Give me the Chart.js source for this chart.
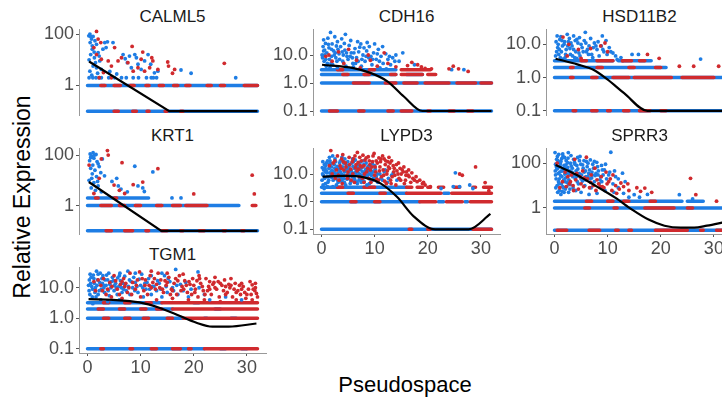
<!DOCTYPE html>
<html>
<head>
<meta charset="utf-8">
<script src="https://cdn.jsdelivr.net/npm/chart.js@4.4.1/dist/chart.umd.min.js"></script>
<style>
  body { margin: 0; background: #fff; width: 722px; height: 404px; overflow: hidden; position: relative; font-family: "Liberation Sans", Arial, sans-serif; }
  canvas { position: absolute; }
  .title { position: absolute; width: 187px; text-align: center; font-size: 17px; line-height: 20px; color: #1a1a1a; }
  .axtitle { position: absolute; font-size: 22px; color: #000; white-space: nowrap; transform: translate(-50%, -50%); }
</style>
</head>
<body>
<div class="axtitle" style="left:22px; top:197px; font-size:23px; transform: translate(-50%, -50%) rotate(-90deg);">Relative Expression</div>
<div class="axtitle" style="left:405px; top:385px;">Pseudospace</div>
<script>
// x axis, shared by all panels
const xTicks = [0, 10, 20, 30];
const xTickLabels = ['0', '10', '20', '30'];

// rows are [y, xStart, xEnd]: dense lines of overlapping cells
// CALML5
const calml5Ticks = [1, 100];
const calml5TickLabels = ['1', '100'];
const calml5Blue = [[0.25,86],[0.45,100],[0.6,81],[0.75,64],[1.05,81],[0.5,47],[0.9,35],[1.7,40],[1.25,20],[0.6,16],[2,19],[1.5,7.7],[2.3,9],[1.05,5.7],[2.6,4.2],[0.45,3.6],[1.9,3],[3.25,47],[3.75,50],[4.8,47],[2.9,26],[1.4,55],[0.9,26],[1.3,12],[0.3,10],[2.2,14],[1.7,4.9],[0.8,2.5],[2.6,2.0],[6.7,16],[7.1,11],[7.9,14],[7.5,7.7],[8.9,16],[9.2,12],[9.5,6.7],[8.25,4.9],[10.1,4.2],[10.75,9],[11.4,16],[11.9,6.7],[12.6,3.1],[13.25,3.6],[12,2],[17.6,4],[19.5,3],[27.9,2],[3.5,30],[4.2,3.5],[5.5,2.8],[0.3,2],[1,2],[1.6,2],[2.2,2],[4,2],[5.1,2],[6.4,2],[7.3,2],[8.6,2],[9.6,2],[11.1,2],[12.4,2],[13,2]];
const calml5Red = [[1.7,127],[2,64],[2.5,47],[1.7,16],[2.6,10.5],[3.9,9],[4.5,5.7],[5.1,30],[5.75,9],[6.4,12],[7.6,7.7],[8.4,33],[8.6,3.6],[9.5,4.9],[10.1,10.5],[10.4,20],[10.75,3.6],[11.7,4.9],[12.1,12],[12.3,9],[13.25,4.2],[15.1,8.2],[15.25,5.7],[16,3],[16.4,4.2],[25.75,7.3],[2.2,2],[4.5,2],[3,3.2],[1.2,30]];
const calml5BlueRows = [[1,0,32],[0.1,0,32]];
const calml5RedRows = [[1,2.5,3.3],[1,5,6.2],[1,8,8.8],[1,11,11.6],[1,13.5,14.3],[1,16.2,17],[1,18.5,19.3],[1,22.5,23.3],[1,25,25.8],[1,29.5,32],[0.1,5,5.8],[0.1,8.5,9.2],[0.1,11.2,11.6],[0.1,14.6,15],[0.1,17.5,18]];
const calml5Curve = [[0.3,8.6],[15.4,0.1],[32,0.1]];

// CDH16
const cdh16Ticks = [0.1, 1, 10];
const cdh16TickLabels = ['0.1', '1.0', '10.0'];
const cdh16Blue = [[1.7,64],[4.5,55],[3,30],[0.75,26],[0.3,20],[0.6,15],[1,12],[1.4,18],[1.9,9],[0.2,8],[0.5,6],[1.1,5],[0.9,4],[1.6,3.6],[2.3,14],[2.7,8],[3.3,11],[3.6,20],[4,6],[4.4,15],[4.8,9],[5.2,22],[5.6,12],[5.9,5],[6.3,17],[6.6,8],[7,13],[7.4,25],[7.8,10],[8.2,6],[8.5,14],[9,20],[9.3,9],[9.8,12],[10.3,7],[10.7,16],[11.2,9],[11.6,5],[12.1,11],[12.5,7],[13,4.5],[13.4,8],[14,10],[14.6,6],[15.3,12],[0.4,35],[1.2,40],[2,25],[2.5,45],[3.8,38],[5.5,33],[6.8,30],[8.6,28],[2.1,4.5],[3,3.5],[4.6,4],[6,3.8],[7.5,4],[9.5,4.5],[11,3.5],[12.2,3.2],[24.5,3],[26.8,3],[17.5,4.5],[1.5,7],[0.1,10],[2.9,6],[4.1,10],[5,7],[6.9,6],[8,18],[10,25],[11.5,20],[0.4,14],[0.8,7],[1.3,24],[2.4,10],[3.1,16],[3.9,13],[4.3,26],[5.4,9],[6.1,12],[7.2,19],[8.9,8],[10.5,11],[1.9,16],[2.8,21],
  [0.6,10],[1.8,5],[2.6,12],[3.4,7],[4.7,12],[5.8,8],[6.4,5],[7.6,7],[8.4,9],[9.6,7],[10.9,6],[12.8,9],[13.8,6]];
const cdh16Red = [[1.4,10],[2,6],[4.2,5],[6.6,6.5],[7.3,3.5],[9.2,6.5],[10.5,4],[12.5,5],[14,3.8],[16.2,4.2],[17,5.5],[18.1,4.5],[18.8,3.8],[20.7,3.2],[24,3.2],[24.8,4],[25.8,3.2],[27.6,2.6],[3.2,13],[5.1,16],[8.8,10],[11.8,12],[0.8,9],[19.5,3.3]];
const cdh16BlueRows = [[3,0,14],[2,0,14],[2,16,19],[1,0,32],[0.1,0,32]];
const cdh16RedRows = [[3,3,4],[3,9,10],[3,15,20.5],[2,4,5],[2,8,9],[2,13,14],[2,15,19],[2,20,21.5],[1,6,9],[1,12,14],[1,15.5,18],[1,19.5,24],[1,25.5,29],[1,30,32],[0.1,1.5,3],[0.1,7,8],[0.1,12.5,13.5],[0.1,15,17],[0.1,20,20.5],[0.1,24,25],[0.1,27.5,28.5]];
const cdh16Curve = [[0.1,4.5],[6,3.4],[9.2,2.3],[12.4,1.15],[15.5,0.33],[19,0.1],[32,0.1]];

// HSD11B2
const hsd11b2Ticks = [0.1, 1, 10];
const hsd11b2TickLabels = ['0.1', '1.0', '10.0'];
const hsd11b2Blue = [[5.8,23],[3.6,18],[0.3,12],[0.6,8],[1,14],[1.3,6],[0.8,5],[1.8,10],[2.2,7],[2.6,12],[3,5],[3.3,9],[4,6],[4.4,11],[4.8,4.5],[5.2,8],[5.6,13],[6,6],[6.5,9],[7,5],[7.5,11],[8,7],[8.4,4.5],[8.8,9],[9.3,6],[9.7,13],[10.3,8],[11,5.5],[11.5,4.5],[2,4],[1.6,3.6],[0.2,4.5],[4.2,3.8],[7.2,4],[14.6,5],[15.8,5],[11.8,3.5],[27.5,3.6],[1.2,17],[2.8,15],[4.7,16],[6.8,15],[9,18],[3.8,4],[12.5,4],[0.5,18],[2.4,20],[0.4,6],[1.5,9],[2.9,7.5],[3.9,13],[5,10],[6.2,7],[7.8,9],[9.9,5],[1.1,4],
  [0.7,10],[1.4,13],[2.1,5],[2.5,9],[3.1,11],[3.6,7],[4.2,14],[4.6,5.5],[5.4,6],[5.9,11],[6.4,5],[7.3,8],[8.2,12],[9.1,7],[10.6,6],[0.9,7],[1.9,12],[3.4,4.5]];
const hsd11b2Red = [[1.6,16.6],[2.7,10],[6.8,7.5],[8.7,9],[10,6],[2.4,4.5],[5,3.8],[17.5,5],[19.7,3.8],[23.5,2.2],[26.2,2.2],[30.9,2.2],[9.5,11],[4.5,7],[12.8,3.2]];
const hsd11b2BlueRows = [[3.2,0,11],[3.2,12,18.2],[2,0,21],[1,0,32],[0.1,0,32]];
const hsd11b2RedRows = [[3.2,5,6],[3.2,8,11],[3.2,13,14.5],[3.2,16,17],[2,3,3.5],[2,8,9],[2,14,15],[2,19,20],[1,3,3.5],[1,7,8],[1,11,14],[1,15,22],[1,24,30],[0.1,3.5,4],[0.1,7,8],[0.1,10,10.5],[0.1,13,14],[0.1,16,18],[0.1,20,21]];
const hsd11b2Curve = [[0.2,3.7],[4.3,2.5],[7.4,1.7],[9.9,0.9],[13.1,0.34],[17.5,0.1],[32,0.1]];

// KRT1
const krt1Ticks = [1, 100];
const krt1TickLabels = ['1', '100'];
const krt1Blue = [[1.05,124],[0.5,110],[1.6,105],[0.8,90],[1.2,75],[0.4,60],[1.8,55],[1,40],[0.6,30],[1.4,25],[2.2,35],[0.9,18],[1.7,14],[0.3,10],[2.5,20],[1.2,8],[2,6],[0.7,5],[1.5,4],[2.6,3.5],[8.9,36],[12.3,21.5],[5.5,12],[4.6,9],[5.8,6],[6.3,4.5],[7.5,3.5],[9.5,6],[10.4,5],[10.7,3.6],[15.9,2],[17.6,2],[3.2,15],[2.8,70],[0.6,80],[1.3,100],[2,45],[0.8,12],[1.9,9]];
const krt1Red = [[3.75,150],[3.9,100],[2.6,70],[6.5,50],[13.25,29],[8.6,6.7],[10.4,8.5],[5,6.5],[6,4],[7,3],[20,2.9],[31,16],[31.4,2.9],[0.3,40],[2.2,12],[1.2,3]];
const krt1BlueRows = [[2,0,11.5],[1,0,28.5],[0.1,0,32]];
const krt1RedRows = [[2,1.5,2],[2,5,5.5],[1,2.5,4.5],[1,6,7],[1,9,10],[1,13,14],[1,16,17.5],[1,18.5,22.5],[1,31,31.7],[0.1,3.5,4.5],[0.1,7,8.5],[0.1,11,11.5],[0.1,14,15],[0.1,17.5,18],[0.1,21,22],[0.1,25.5,26],[0.1,29,29.5]];
const krt1Curve = [[0.25,8.6],[13.9,0.1],[32,0.1]];

// LYPD3
const lypd3Ticks = [0.1, 1, 10];
const lypd3TickLabels = ['0.1', '1.0', '10.0'];
const lypd3Blue = [[0.2,10],[0.4,14],[0.6,7],[0.8,20],[1,11],[1.2,5],[1.4,16],[1.6,30],[1.8,9],[2,13],[2.2,6],[2.4,22],[2.6,10],[2.8,4],[3,15],[3.2,8],[3.4,25],[3.6,12],[3.8,5.5],[4,18],[4.2,9],[4.4,35],[4.6,14],[4.8,6.5],[5,11],[5.2,20],[5.4,4.5],[5.6,13],[5.8,8],[6,28],[6.2,16],[6.4,10],[6.6,5],[6.8,12],[7,22],[7.2,7],[7.4,14],[7.6,9],[7.8,18],[8,5.5],[8.2,11],[8.4,25],[8.6,7.5],[8.8,13],[9,4.5],[9.2,16],[9.4,9],[9.6,6],[9.8,12],[10,20],[10.3,8],[10.6,5],[11,10],[11.5,6],[12,14],[12.6,7],[13.2,9],[0.3,4],[0.5,3],[1.1,3.5],[0.9,25],[1.5,40],[2.1,45],[0.1,6],[0.7,12],[1.3,8],[1.9,18],[2.5,16],[3.1,11],[3.7,7],[4.3,5],[5.1,7],[5.7,25],[6.3,6],[6.9,9],[7.5,5],[25.2,11],[27.9,4],[24.8,3.5],[26,3.5],[22.5,3],[28.5,3],
  [0.15,17],[0.35,9],[0.55,22],[0.75,4.5],[0.95,13],[1.15,30],[1.35,6],[1.55,11],[1.75,24],[1.95,7.5],[2.15,3.5],[2.35,12],[2.55,35],[2.75,8],[2.95,19],[3.15,5],[3.35,14],[3.55,30],[3.75,10],[3.95,6.5],[4.15,25],[4.35,12],[4.55,4],[4.75,17],[4.95,28],[5.15,9],[5.35,15],[5.55,5.5],[5.75,11],[5.95,19],[6.15,7],[6.35,32],[6.55,13],[6.75,4.5],[6.95,16],[7.15,10],[7.35,27],[7.55,6],[7.75,12],[7.95,22],[8.15,8],[8.35,15],[8.55,4],[8.75,19],[8.95,10],[9.15,6.5],[9.35,13],[9.55,24],[9.75,7],[10.1,15],[10.5,10],[11.2,7],[11.8,12],[12.4,5],[13.5,11],[14.2,6],
  [0.25,28],[0.65,16],[1.05,8],[1.45,23],[1.85,13],[2.25,9],[2.65,28],[3.05,6],[3.45,18],[3.85,40],[4.25,7],[4.65,22],[5.05,16],[5.45,9],[5.85,35],[6.25,11],[6.65,20],[7.05,6],[7.45,17],[7.85,30],[8.25,13],[8.65,9],[9.05,20],[9.45,11]];
const lypd3Red = [[1.75,70],[6.75,60],[9.9,55],[3,45],[4,50],[5.2,40],[7.8,48],[8.8,42],[10.8,38],[11.8,35],[12.5,28],[2.5,30],[3.5,20],[4.5,25],[5.5,15],[6,35],[6.5,22],[7,15],[7.5,30],[8,20],[8.5,12],[9,30],[9.5,18],[10.2,12],[10.5,25],[11,18],[11.3,8],[11.6,14],[12,22],[12.3,10],[12.8,16],[13,6],[13.5,20],[13.8,9],[14.2,13],[14.6,7],[15,10],[15.5,18],[15.8,6],[16.3,9],[16.8,5],[17.2,7],[18,5.3],[19,4.5],[19.5,4],[20.5,3.5],[2,10],[3.3,6],[4.8,9],[6.2,5],[7.7,7],[9.3,5],[10.7,6],[14,4],[12.2,4.5],[26,10],[26.5,9],[29,18],[30.8,4.9],[31.5,2.5],[1.5,20],[2.8,14],[5,12],
  [2.2,25],[3.8,35],[4.2,14],[5.8,28],[6.4,17],[7.2,40],[8.2,32],[9.7,45],[10.3,30],[11.5,45],[12.7,40],[13.2,30],[13.6,12],[14.5,25],[15.2,14],[16,12],[16.5,8],[17,11],[17.5,6],[4.6,18],[6.9,26],[9.1,22],[11.1,28],[12.6,18],[14.8,16],[15.6,4.5],[10,9],[8.7,16],[7.3,20],
  [3.2,9],[3.7,16],[4.1,28],[4.9,7],[5.3,22],[5.9,10],[6.3,45],[6.7,13],[7.1,8],[7.6,18],[8.1,10],[8.4,38],[8.9,7],[9.2,14],[9.6,28],[10.1,18],[10.4,6.5],[10.9,13],[11.2,35],[11.7,9],[12.1,30],[12.4,13],[12.9,25],[13.3,8],[13.7,16],[14.1,22],[14.4,10],[14.9,6],[15.4,12],[15.9,9],[16.4,14],[17.8,8],[18.5,6],[19.2,5],[2.6,7],[3.9,4.5],[5.6,6],[8,5],[11.9,5.5],[13.1,4.5]];
const lypd3BlueRows = [[3.3,0,16],[2,0,16],[2,23,24],[1,0,18.5],[1,22,23],[1,27,27.5],[0.1,0,32]];
const lypd3RedRows = [[3.3,3,4],[3.3,8,10],[3.3,16,17],[3.3,18,19],[3.3,20,20.5],[3.3,22,23],[3.3,25,26],[3.3,28.5,29],[3.3,30.5,32],[2,5,6],[2,11,12],[2,16,22.5],[2,24.5,32],[1,5.5,6.5],[1,10,11],[1,18.5,21.5],[1,23.5,26.5],[1,28,32],[0.1,16.5,17],[0.1,20,20.5],[0.1,28.5,32]];
const lypd3Curve = [[0.2,8],[4.2,8.5],[8,7.6],[11.1,4.6],[14.2,1.5],[17.4,0.29],[21.4,0.1],[27.7,0.1],[31.8,0.36]];

// SPRR3
const sprr3Ticks = [1, 100];
const sprr3TickLabels = ['1', '100'];
const sprr3Blue = [[0.2,90],[0.4,150],[0.6,60],[0.8,250],[1,40],[1.2,120],[1.4,25],[1.6,200],[1.8,80],[2,15],[2.2,130],[2.4,50],[2.6,300],[2.8,30],[3,100],[0.3,20],[0.5,10],[0.7,35],[0.9,6],[1.1,70],[1.3,12],[1.5,45],[1.7,8],[1.9,180],[2.1,22],[2.3,9],[2.5,65],[2.7,18],[2.9,7],[0.1,300],[0.6,5],[1.2,4],[1.8,5],[3.3,40],[3.6,150],[3.9,20],[4.2,80],[4.5,12],[4.8,200],[5.1,30],[5.4,60],[5.7,10],[6,120],[6.3,25],[6.6,50],[6.9,8],[7.2,90],[7.5,15],[7.8,35],[8.1,70],[8.4,12],[8.7,25],[9,50],[9.4,50],[9.8,20],[10.2,30],[10.6,310],[11,12],[11.5,25],[12,8],[12.8,36],[13.3,15],[4,6],[5,5],[6.5,4],[8,4.5],[9.5,6],[11.2,5],[13,4.5],[15,3.9],[17.5,4],[23.5,3.9],[26,2.5],[14,3],[16,3],[3.5,8],[4.3,15],[5.8,18],[7,22],
  [0.15,45],[0.35,70],[0.55,200],[0.75,15],[0.95,110],[1.15,28],[1.35,160],[1.55,9],[1.75,55],[1.95,33],[2.15,85],[2.35,14],[2.55,170],[2.75,40],[2.95,11],[3.15,75],[3.45,25],[3.75,110],[4.05,45],[4.35,180],[4.65,35],[4.95,90],[5.25,16],[5.55,130],[5.85,45],[6.15,70],[6.45,35],[6.75,140],[7.05,40],[7.35,60],[7.65,28],[7.95,110],[8.25,45],[8.55,18],[8.85,80],[9.15,30],[0.25,8],[0.85,12],[1.45,5.5],[2.05,7],[2.65,5],
  [0.2,30],[0.45,55],[0.65,130],[0.9,20],[1.1,95],[1.3,45],[1.55,260],[1.75,18],[2,60],[2.2,35],[2.45,105],[2.65,12],[2.9,45],[3.1,220],[3.35,60],[3.55,30],[3.85,90],[4.1,25],[4.4,55],[4.7,130],[5,20],[5.3,85],[5.6,40],[5.9,25],[6.3,100],[6.7,20],[7.1,30],[7.5,120],[8.2,30],[8.9,15],[9.6,90],[10.4,40],[11.3,45],[12,20]];
const sprr3Red = [[6,185],[0.5,100],[2.5,25],[3,15],[3.5,10],[4,18],[4.5,7],[5,12],[5.5,9],[6.2,20],[6.8,14],[7.3,10],[7.8,6],[8.3,12],[8.8,25],[9.3,8],[9.7,40],[10.2,15],[10.8,6],[11.5,10],[12.2,7],[13,9],[14,6],[15.5,8],[17,7.7],[18.3,5],[25.6,21],[26.6,3.9],[30.5,2],[2,40],[1,8],[3.8,150],[7.6,60],[11.7,4.5],[1.5,15],[2.2,9],[3.2,30],[4.8,25],[5.3,45],[6.6,8],[8,18],[9,9],[10.5,20],[12.5,13],[13.8,12],[16.2,5.5],
  [4.2,35],[5.6,22],[6.9,30],[8.6,9],[9.9,12],[11,30],[2.8,12],[3.6,6]];
const sprr3BlueRows = [[2,0,24],[2,25,28],[1,0,32],[0.1,0,32]];
const sprr3RedRows = [[2,6,7],[2,10,11],[2,13,14],[2,18,19],[1,5.7,6.6],[1,11.2,11.8],[1,17,22.5],[1,25,26],[0.1,0.5,2.3],[0.1,6.5,8.5],[0.1,11.5,12],[0.1,14,14.5],[0.1,19,25],[0.1,27.5,28],[0.1,30.5,31.5]];
const sprr3Curve = [[0.2,84],[4.2,30],[7.9,9.2],[11.5,2.8],[14.6,0.84],[17.7,0.3],[20.7,0.16],[23.8,0.13],[26.3,0.13],[28.7,0.16],[32,0.23]];

// TGM1
const tgm1Ticks = [0.1, 1, 10];
const tgm1TickLabels = ['0.1', '1.0', '10.0'];
const tgm1Blue = [[0.3,8],[0.6,14],[0.9,5],[1.2,20],[1.5,10],[1.7,35],[2,6],[2.3,15],[2.6,9],[2.9,25],[3.2,7],[3.5,12],[3.8,18],[4.1,5.5],[4.4,10],[4.7,22],[5,8],[5.3,14],[5.6,6],[5.9,11],[6.2,17],[6.5,7],[6.8,9],[7.1,13],[7.6,35],[8,6],[8.5,10],[9,15],[9.5,7],[10,12],[10.5,5],[11,9],[11.5,20],[12,6],[12.5,11],[13,8],[13.5,14],[14,5],[14.5,25],[15,7],[16,10],[16.6,40],[17,6],[18,8],[19,5],[20.8,33],[22,6],[23,4],[1,3],[2.5,4],[3.8,3.5],[6,4],[0.5,28],[2,28],[3,12],[4,30],[6,25],[9,30],[12,25],[14,30],[26,5],[29,4],
  [0.2,12],[0.45,6],[0.7,22],[0.95,9],[1.3,14],[1.6,5],[1.9,18],[2.2,8],[2.7,20],[3.1,10],[3.6,26],[4.2,13],[4.9,17],[5.4,10],[6.1,30],[6.7,14],[7.3,8],[7.9,18],[8.7,22],[9.3,11],[10.2,28],[10.8,14],[11.7,9],[13.2,17],[14.8,11],[15.5,16],[16.2,8],[17.5,13],[19.5,9],
  [0.35,18],[0.8,11],[1.1,26],[1.4,7],[1.8,12],[2.4,30],[2.8,14],[3.3,18],[3.9,8],[4.5,16],[5.1,12],[5.7,21],[6.4,10],[7,24],[7.7,11],[8.2,16],[8.9,8],[9.7,19],[10.4,10],[11.2,15],[12.2,11],[13.8,9],[15.2,20],[16.8,12],[18.5,15],[21,10]];
const tgm1Red = [[1.5,8],[2.5,12],[3.5,6],[4.2,15],[5,25],[5.6,9],[6.2,13],[6.8,20],[7.5,7],[8,30],[8.5,15],[9,9],[9.8,33],[10.3,20],[10.8,12],[11.3,6],[11.8,25],[12.3,15],[12.8,9],[13.3,30],[13.8,18],[14.3,7],[14.8,12],[15.3,22],[15.8,9],[16.3,14],[16.8,6],[17.3,25],[17.8,11],[18.3,17],[18.8,7],[19.3,13],[19.8,20],[20.3,9],[20.8,5],[21.3,14],[21.8,8],[22.3,20],[22.8,11],[23.3,6],[23.8,15],[24.3,9],[24.8,5],[25.3,12],[25.8,18],[26.3,7],[26.8,10],[27.3,5],[27.8,14],[28.3,8],[28.8,6],[29.3,11],[29.8,4.5],[30.3,9],[30.8,6],[31,12.5],[31.5,8],[32,5],[3,20],[7,11],[10,5],[13,4],[16,4.5],[19,4],[22,4],[25,3.5],[28,4],[31,4],[18,28],[21,25],[24,22],[27,20],[12,35],[15,30],[4.5,5],[6.5,4.5],
  [2,18],[3.8,9],[5.3,17],[6,6],[7.2,14],[8.3,6],[9.4,18],[10.6,8],[11.6,12],[12.6,20],[13.6,10],[14.6,17],[15.6,6],[16.6,20],[17.6,8],[18.6,12],[19.6,6],[20.6,17],[21.6,11],[22.6,8],[23.6,13],[24.6,16],[25.6,8],[26.6,13],[27.6,9],[28.6,12],[29.6,7],[30.6,16],[31.6,10],[20,12],[23,9],[26,11],[29,9],[31.8,6.5],
  [1.2,16],[2.8,8],[4.6,11],[6.5,16],[7.8,10],[9.2,12],[10.9,18],[12,10],[13,13],[14.1,9],[15,15],[16,8],[17,17],[18.1,9],[19.1,16],[20.2,7],[21.1,20],[22.1,6],[23,16],[24,10],[25,14],[26,6],[27,12],[28,7],[29,14],[30,6],[31.2,9],[31.6,14]];
const tgm1BlueRows = [[3.2,0,14],[2,0,16],[1,0,18],[0.1,0,22],[3.2,20,21],[2,24,25],[1,22,22.5],[1,27,28],[0.1,25,26],[0.1,29,30]];
const tgm1RedRows = [[3.2,14,32],[2,16,32],[1,18,32],[0.1,22,32],[3.2,3,4],[3.2,7,8],[3.2,11,12],[2,2,3],[2,6,7],[2,10,11],[2,13,14],[1,3,4],[1,7,8],[1,10.5,11.5],[1,15,16],[0.1,2.5,3],[0.1,8,8.5],[0.1,12,13],[0.1,16,17.5],[0.1,19,19.5]];
const tgm1Curve = [[0.2,4.2],[4.8,4],[9.8,3.3],[13.5,2.2],[17.3,1.2],[20.4,0.72],[23.5,0.53],[26.6,0.53],[31.8,0.67]];

const blue = 'rgb(30,125,228)';
const red = 'rgb(208,42,46)';
const colLeft = [79, 313, 546];
const rowTop = [29, 148, 267];
const yAxisWidth = 44;
const xAxisHeight = 27;

const panels = [
  { name: 'CALML5', col: 0, row: 0, xAxis: false, yMin: 0.071, yMax: 158, ticks: calml5Ticks, labels: calml5TickLabels, blue: calml5Blue, red: calml5Red, blueRows: calml5BlueRows, redRows: calml5RedRows, curve: calml5Curve, smooth: false },
  { name: 'CDH16', col: 1, row: 0, xAxis: false, yMin: 0.072, yMax: 85, ticks: cdh16Ticks, labels: cdh16TickLabels, blue: cdh16Blue, red: cdh16Red, blueRows: cdh16BlueRows, redRows: cdh16RedRows, curve: cdh16Curve, smooth: true },
  { name: 'HSD11B2', col: 2, row: 0, xAxis: false, yMin: 0.075, yMax: 29, ticks: hsd11b2Ticks, labels: hsd11b2TickLabels, blue: hsd11b2Blue, red: hsd11b2Red, blueRows: hsd11b2BlueRows, redRows: hsd11b2RedRows, curve: hsd11b2Curve, smooth: true },
  { name: 'KRT1', col: 0, row: 1, xAxis: false, yMin: 0.075, yMax: 190, ticks: krt1Ticks, labels: krt1TickLabels, blue: krt1Blue, red: krt1Red, blueRows: krt1BlueRows, redRows: krt1RedRows, curve: krt1Curve, smooth: false },
  { name: 'LYPD3', col: 1, row: 1, xAxis: true, yMin: 0.068, yMax: 87, ticks: lypd3Ticks, labels: lypd3TickLabels, blue: lypd3Blue, red: lypd3Red, blueRows: lypd3BlueRows, redRows: lypd3RedRows, curve: lypd3Curve, smooth: true },
  { name: 'SPRR3', col: 2, row: 1, xAxis: true, yMin: 0.068, yMax: 480, ticks: sprr3Ticks, labels: sprr3TickLabels, blue: sprr3Blue, red: sprr3Red, blueRows: sprr3BlueRows, redRows: sprr3RedRows, curve: sprr3Curve, smooth: true },
  { name: 'TGM1', col: 0, row: 2, xAxis: true, yMin: 0.072, yMax: 48, ticks: tgm1Ticks, labels: tgm1TickLabels, blue: tgm1Blue, red: tgm1Red, blueRows: tgm1BlueRows, redRows: tgm1RedRows, curve: tgm1Curve, smooth: true }
];

function pts(arr) {
  return arr.map(p => ({ x: p[0], y: p[1] }));
}
// each row segment becomes two points and a gap
function segs(arr) {
  let out = [];
  arr.forEach(s => {
    out.push({ x: s[1], y: s[0] }, { x: s[2], y: s[0] }, { x: s[2], y: null });
  });
  return out;
}

document.addEventListener('DOMContentLoaded', function () {
  panels.forEach(p => {
    let left = colLeft[p.col];
    let top = rowTop[p.row];

    let t = document.createElement('div');
    t.className = 'title';
    t.textContent = p.name;
    t.style.left = left + 'px';
    t.style.top = (top - 22) + 'px';
    document.body.appendChild(t);

    let c = document.createElement('canvas');
    c.width = yAxisWidth + 187 + 4;
    c.height = 10 + 86 + (p.xAxis ? xAxisHeight : 10);
    c.style.left = (left - yAxisWidth) + 'px';
    c.style.top = (top - 10) + 'px';
    document.body.appendChild(c);

    new Chart(c.getContext('2d'), {
      type: 'scatter',
      data: {
        datasets: [
          { data: pts(p.curve), showLine: true, borderColor: '#000', borderWidth: 2.2, pointRadius: 0, tension: p.smooth ? 0.4 : 0, cubicInterpolationMode: p.smooth ? 'monotone' : 'default', order: 0 },
          { data: pts(p.red), backgroundColor: red, pointRadius: 1.9, borderWidth: 0, order: 1 },
          { data: pts(p.blue), backgroundColor: blue, pointRadius: 1.9, borderWidth: 0, order: 2 },
          { data: segs(p.redRows), showLine: true, borderColor: red, borderWidth: 3.5, borderCapStyle: 'round', pointRadius: 0, order: 3 },
          { data: segs(p.blueRows), showLine: true, borderColor: blue, borderWidth: 3.5, borderCapStyle: 'round', pointRadius: 0, order: 4 }
        ]
      },
      options: {
        responsive: false,
        animation: false,
        layout: { padding: { top: 10, right: 4, bottom: p.xAxis ? 0 : 10, left: 0 } },
        plugins: { legend: { display: false }, tooltip: { enabled: false } },
        scales: {
          x: {
            type: 'linear', min: -1.6, max: 33.6, display: p.xAxis,
            afterBuildTicks: s => { s.ticks = xTicks.map(v => ({ value: v })); },
            afterFit: s => { s.height = p.xAxis ? xAxisHeight : 0; s.paddingLeft = 0; s.paddingRight = 0; },
            ticks: { callback: (v, i) => xTickLabels[i], color: '#4d4d4d', font: { size: 18 }, padding: 1, maxRotation: 0, autoSkip: false },
            grid: { drawOnChartArea: false, tickLength: 3, color: '#555' },
            border: { color: '#999' }
          },
          y: {
            type: 'logarithmic', min: p.yMin, max: p.yMax, bounds: 'data',
            afterBuildTicks: s => { s.ticks = p.ticks.map(v => ({ value: v })); },
            afterFit: s => { s.width = yAxisWidth; s.paddingTop = 0; s.paddingBottom = 0; },
            ticks: { callback: (v, i) => p.labels[i], color: '#4d4d4d', font: { size: 18 }, padding: 2, autoSkip: false },
            grid: { drawOnChartArea: false, tickLength: 3, color: '#555' },
            border: { color: '#999' }
          }
        }
      }
    });
  });
});
</script>
</body>
</html>
